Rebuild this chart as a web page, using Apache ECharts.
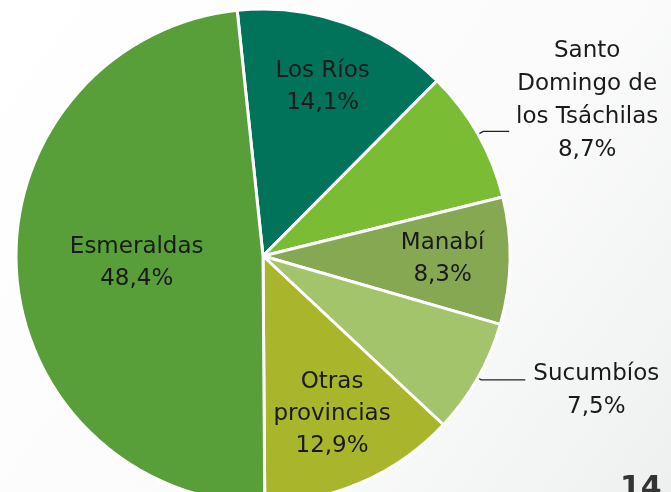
<!DOCTYPE html>
<html>
<head>
<meta charset="utf-8">
<script src="https://cdn.jsdelivr.net/npm/echarts@6/dist/echarts.min.js"></script>
<style>
  html, body { margin: 0; padding: 0; background: #fff; }
  #main { width: 671px; height: 492px; }
</style>
</head>
<body>
<div id="main"></div>
<script>
// datos del gráfico
var provincias = ['Los Ríos', 'Santo Domingo de los Tsáchilas', 'Manabí', 'Sucumbíos', 'Otras provincias', 'Esmeraldas'];
var etiquetas = [['Los Ríos'], ['Santo', 'Domingo de', 'los Tsáchilas'], ['Manabí'], ['Sucumbíos'], ['Otras', 'provincias'], ['Esmeraldas']];
var porcentajes = [14.1, 8.7, 8.3, 7.5, 12.9, 48.4];
var colores = ['#00735a', '#7abd34', '#86a853', '#a4c46c', '#a9b62c', '#589f3a'];

// cuánto se aleja la etiqueta interior del centro (1 = mitad del radio)
var alejamiento = [1.42, 1, 1.42, 1, 1.36, 1.0];

var centro = [263, 256];
var fuente = 'DejaVu Sans';
var chart = echarts.init(document.getElementById('main'));

function textoEtiqueta(i, rich) {
    var lineas = etiquetas[i].concat([String(porcentajes[i]).replace('.', ',') + '%']);
    if (!rich) return lineas.join('\n');
    return lineas.map(function (l) { return '{c|' + l + '}'; }).join('\n');
}

function estiloRich(ancho) {
    return { c: { width: ancho, align: 'center', fontSize: 23, lineHeight: 33, color: '#1a1a1a', fontFamily: fuente } };
}

var data = provincias.map(function (p, i) {
    var item = { name: p, value: porcentajes[i], itemStyle: { color: colores[i] } };
    if (i === 1) {
        item.label = {
            position: 'outside', alignTo: 'none',
            padding: [0, 0, 62, 0],
            formatter: function () { return textoEtiqueta(1, true); },
            rich: estiloRich(146)
        };
        item.labelLine = { show: true, length: 6, length2: 26 };
    }
    if (i === 3) {
        item.label = {
            position: 'outside', alignTo: 'none',
            padding: [22, 0, 0, 0],
            formatter: function () { return textoEtiqueta(3, true); },
            rich: estiloRich(132)
        };
        item.labelLine = { show: true, length: 4, length2: 44 };
    }
    return item;
});

var option = {
    backgroundColor: {
        type: 'linear', x: 0, y: 0, x2: 1, y2: 1,
        colorStops: [
            { offset: 0, color: '#ffffff' },
            { offset: 0.6, color: '#fbfbfb' },
            { offset: 1, color: '#eef0f0' }
        ]
    },
    graphic: [{
        type: 'text',
        left: 620, top: 474,
        style: { text: '14', fill: '#333333', font: 'bold 30px "DejaVu Sans"' }
    }],
    series: [{
        type: 'pie',
        center: centro,
        radius: [0, 247],
        startAngle: 96,
        clockwise: true,
        avoidLabelOverlap: false,
        itemStyle: { borderColor: '#ffffff', borderWidth: 3 },
        label: {
            show: true,
            position: 'inside',
            color: '#1a1a1a',
            fontFamily: fuente,
            fontSize: 23,
            lineHeight: 32,
            align: 'center',
            formatter: function (p) { return textoEtiqueta(p.dataIndex, false); }
        },
        labelLine: { show: false, lineStyle: { color: '#222', width: 1.3 } },
        labelLayout: function (params) {
            var i = params.dataIndex;
            if (i === 1 || i === 3) return;
            var r = params.labelRect;
            var cx = r.x + r.width / 2, cy = r.y + r.height / 2;
            var k = alejamiento[i];
            return {
                x: centro[0] + (cx - centro[0]) * k,
                y: centro[1] + (cy - centro[1]) * k,
                align: 'center', verticalAlign: 'middle'
            };
        },
        data: data
    }]
};

chart.setOption(option);
</script>
</body>
</html>
